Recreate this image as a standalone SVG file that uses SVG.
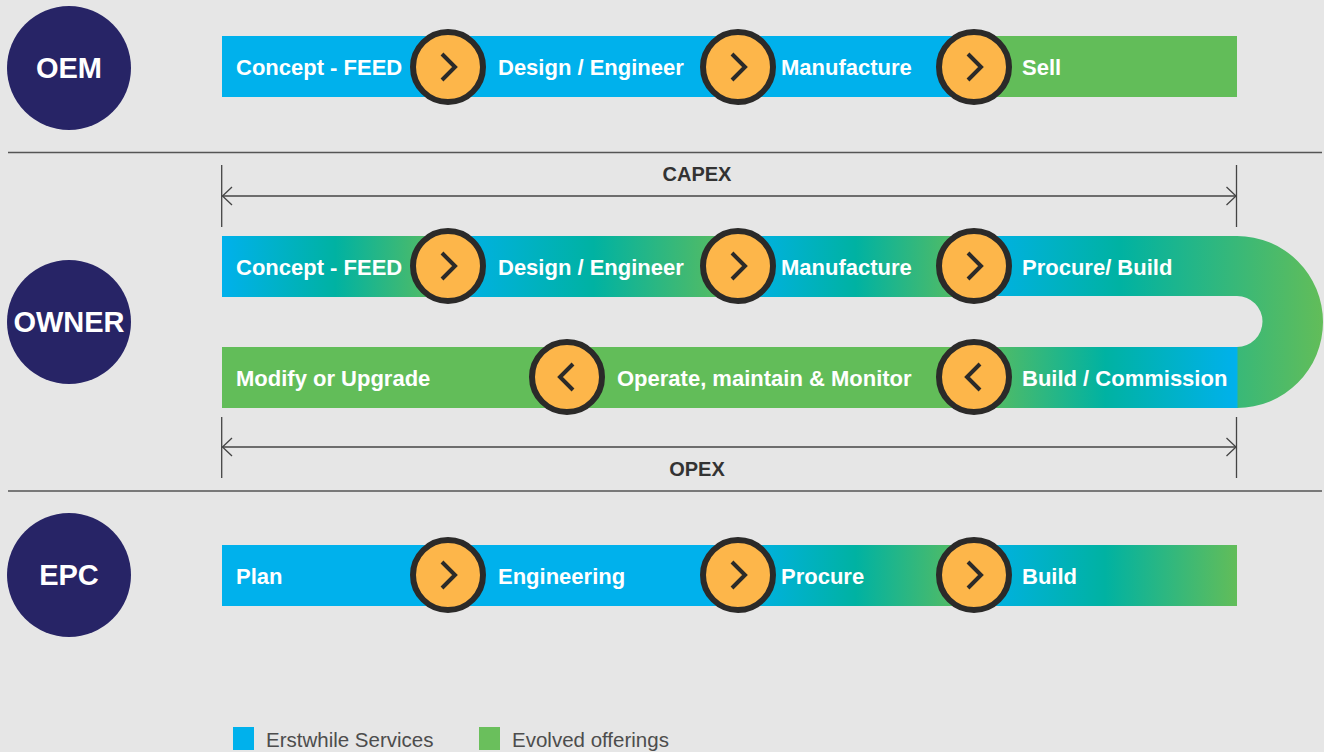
<svg xmlns="http://www.w3.org/2000/svg" width="1324" height="752" viewBox="0 0 1324 752">
<defs>
<linearGradient id="bg" x1="0" y1="0" x2="1" y2="0">
<stop offset="0" stop-color="#00b1ec"/>
<stop offset="0.5" stop-color="#00b2a2"/>
<stop offset="1" stop-color="#62bd59"/>
</linearGradient>
<linearGradient id="gb" x1="0" y1="0" x2="1" y2="0">
<stop offset="0" stop-color="#62bd59"/>
<stop offset="0.5" stop-color="#00b2a2"/>
<stop offset="1" stop-color="#00b1ec"/>
</linearGradient>
<linearGradient id="turn" gradientUnits="userSpaceOnUse" x1="973" y1="0" x2="1323" y2="0">
<stop offset="0" stop-color="#00b1ec"/>
<stop offset="0.42" stop-color="#00b2a2"/>
<stop offset="1" stop-color="#62bd59"/>
</linearGradient>
<marker id="ah" viewBox="0 0 12 20" refX="10.5" refY="10" markerWidth="12" markerHeight="20" markerUnits="userSpaceOnUse" orient="auto-start-reverse">
<polyline points="1,1 10.5,10 1,19" fill="none" stroke="#444" stroke-width="1.3"/>
</marker>
</defs>
<style>
.lbl{font-family:"Liberation Sans",Arial,sans-serif;font-weight:bold;font-size:22px;fill:#ffffff}
.role{font-family:"Liberation Sans",Arial,sans-serif;font-weight:bold;font-size:29px;fill:#ffffff}
.dim{font-family:"Liberation Sans",Arial,sans-serif;font-weight:bold;font-size:20px;fill:#333333}
.leg{font-family:"Liberation Sans",Arial,sans-serif;font-size:20.5px;fill:#4d4d4d}
.step{fill:#fdb64a;stroke:#2b2a29;stroke-width:6}
.chev{fill:none;stroke:#2b2a29;stroke-width:4}
.navy{fill:#272466}
.sep{stroke:#555;stroke-width:1.3}
.dline{stroke:#444;stroke-width:1.3;fill:none}
.blue{fill:#00b1ec}
.green{fill:#62bd59}
</style>
<rect x="0" y="0" width="1324" height="752" fill="#e6e6e6"/>

<g id="separators">
<line class="sep" x1="8" y1="152.5" x2="1322" y2="152.5"/>
<line class="sep" x1="8" y1="491" x2="1322" y2="491"/>
</g>

<!-- Role nodes -->
<g id="oem"><circle class="navy" cx="69" cy="68" r="62"/><text class="role" x="69" y="78" text-anchor="middle">OEM</text></g>
<g id="owner"><circle class="navy" cx="69" cy="322" r="62"/><text class="role" x="69" y="332" text-anchor="middle">OWNER</text></g>
<g id="epc"><circle class="navy" cx="69" cy="575" r="62"/><text class="role" x="69" y="585" text-anchor="middle">EPC</text></g>

<!-- OEM row -->
<g id="oem-bar">
<rect class="blue" x="222" y="36" width="752" height="61"/>
<rect class="green" x="973" y="36" width="264" height="61"/>
<text class="lbl" x="236" y="74.5">Concept - FEED</text>
<text class="lbl" x="498" y="74.5">Design / Engineer</text>
<text class="lbl" x="781" y="74.5">Manufacture</text>
<text class="lbl" x="1022" y="74.5">Sell</text>
</g>

<!-- OWNER rows -->
<g id="owner-bar">
<rect fill="url(#bg)" x="222" y="236" width="227" height="61"/>
<rect fill="url(#bg)" x="448" y="236" width="291" height="61"/>
<rect fill="url(#bg)" x="738" y="236" width="236" height="61"/>
<path fill="url(#turn)" d="M973,236 L1237,236 A86,86 0 0 1 1237,408 L1237,347 A25.5,25.5 0 0 0 1237,296 L973,296 Z"/>
<rect class="green" x="222" y="347" width="752" height="61"/>
<rect fill="url(#gb)" x="973" y="347" width="264.5" height="61"/>
<text class="lbl" x="236" y="274.5">Concept - FEED</text>
<text class="lbl" x="498" y="274.5">Design / Engineer</text>
<text class="lbl" x="781" y="274.5">Manufacture</text>
<text class="lbl" x="1022" y="274.5">Procure/ Build</text>
<text class="lbl" x="236" y="385.5">Modify or Upgrade</text>
<text class="lbl" x="617" y="385.5">Operate, maintain &amp; Monitor</text>
<text class="lbl" x="1022" y="385.5">Build / Commission</text>
</g>

<!-- EPC row -->
<g id="epc-bar">
<rect class="blue" x="222" y="545" width="517" height="61"/>
<rect fill="url(#bg)" x="738" y="545" width="236" height="61"/>
<rect fill="url(#bg)" x="973" y="545" width="264" height="61"/>
<text class="lbl" x="236" y="583.5">Plan</text>
<text class="lbl" x="498" y="583.5">Engineering</text>
<text class="lbl" x="781" y="583.5">Procure</text>
<text class="lbl" x="1022" y="583.5">Build</text>
</g>

<!-- step circles -->
<g id="steps">
<g id="s-oem-1"><circle class="step" cx="448" cy="67" r="35"/><polyline class="chev" points="442,54 455,67 442,80"/></g>
<g id="s-oem-2"><circle class="step" cx="738" cy="67" r="35"/><polyline class="chev" points="732,54 745,67 732,80"/></g>
<g id="s-oem-3"><circle class="step" cx="974" cy="67" r="35"/><polyline class="chev" points="968,54 981,67 968,80"/></g>
<g id="s-own-1"><circle class="step" cx="448" cy="266" r="35"/><polyline class="chev" points="442,253 455,266 442,279"/></g>
<g id="s-own-2"><circle class="step" cx="738" cy="266" r="35"/><polyline class="chev" points="732,253 745,266 732,279"/></g>
<g id="s-own-3"><circle class="step" cx="974" cy="266" r="35"/><polyline class="chev" points="968,253 981,266 968,279"/></g>
<g id="s-own-4"><circle class="step" cx="567" cy="377" r="35"/><polyline class="chev" points="573,364 560,377 573,390"/></g>
<g id="s-own-5"><circle class="step" cx="974" cy="377" r="35"/><polyline class="chev" points="980,364 967,377 980,390"/></g>
<g id="s-epc-1"><circle class="step" cx="448" cy="575" r="35"/><polyline class="chev" points="442,562 455,575 442,588"/></g>
<g id="s-epc-2"><circle class="step" cx="738" cy="575" r="35"/><polyline class="chev" points="732,562 745,575 732,588"/></g>
<g id="s-epc-3"><circle class="step" cx="974" cy="575" r="35"/><polyline class="chev" points="968,562 981,575 968,588"/></g>
</g>

<!-- dimension connectors -->
<g id="connectors">
<line class="dline" x1="221.7" y1="165" x2="221.7" y2="227"/>
<line class="dline" x1="1236.5" y1="165" x2="1236.5" y2="227"/>
<line class="dline" x1="222.5" y1="196" x2="1236" y2="196" marker-start="url(#ah)" marker-end="url(#ah)"/>
<line class="dline" x1="221.7" y1="417" x2="221.7" y2="478"/>
<line class="dline" x1="1236.5" y1="417" x2="1236.5" y2="478"/>
<line class="dline" x1="222.5" y1="447" x2="1236" y2="447" marker-start="url(#ah)" marker-end="url(#ah)"/>
</g>
<g id="capex"><text class="dim" x="697" y="181" text-anchor="middle">CAPEX</text></g>
<g id="opex"><text class="dim" x="697" y="476" text-anchor="middle">OPEX</text></g>

<!-- legend -->
<g id="legend">
<rect class="blue" x="233" y="727" width="21" height="23"/>
<text class="leg" x="266" y="747">Erstwhile Services</text>
<rect fill="#6abf5c" x="479" y="727" width="21" height="23"/>
<text class="leg" x="512" y="747">Evolved offerings</text>
</g>
</svg>
